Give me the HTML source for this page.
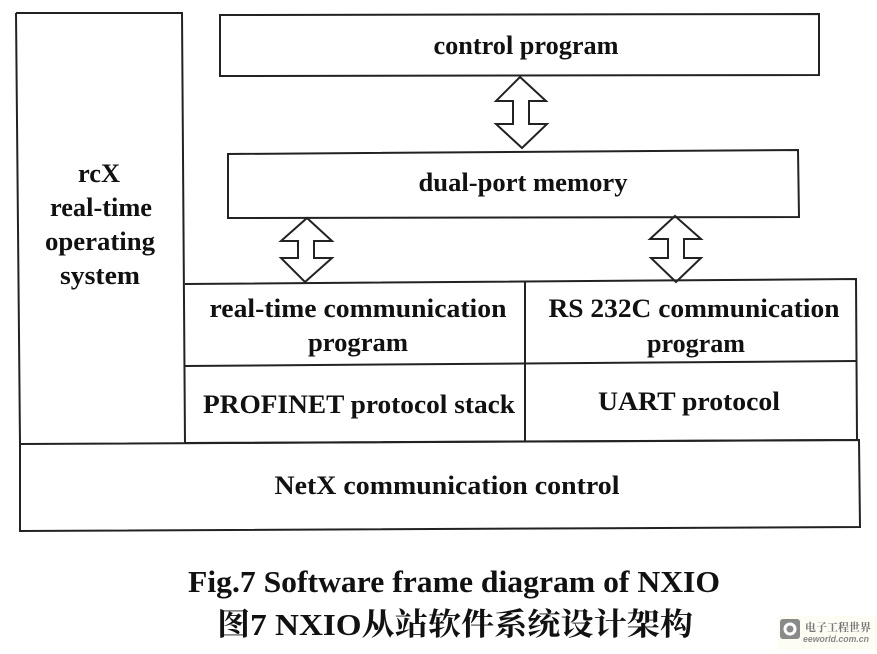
<!DOCTYPE html>
<html><head><meta charset="utf-8"><style>
html,body{margin:0;padding:0;background:#fff}
svg{display:block}
text{font-family:"Liberation Serif","Noto Serif CJK SC",serif;fill:#111;text-anchor:middle;font-weight:bold;font-size:26px;stroke:none}
</style></head><body>
<svg width="877" height="654" viewBox="0 0 877 654" xmlns="http://www.w3.org/2000/svg">
<rect width="877" height="654" fill="#fff"/>
<g fill="none" stroke="#222" stroke-width="2">
<path d="M16 13L182 13L185 444M16 13L20 444"/>
<path d="M220 15L819 14L819 75L220 76Z"/>
<path d="M228 154L798 150L799 217L228 218Z"/>
<path d="M185 284L856 279L857 440L185 443"/>
<path d="M185 366L856 361"/>
<path d="M525 281L525 441"/>
<path d="M20 444L859 440L860 527L20 531Z"/>
<path d="M520 77L546 101L529 101L529 124L547 124L522 148L496 124L513 124L513 101L496 101Z"/>
<path d="M307 218L332 241L314 241L314 258L332 258L305 282L281 258L298 258L298 241L281 241Z"/>
<path d="M675 216L701 239L684 239L684 258L701 258L676 282L651 258L668 258L668 239L650 239Z"/>
</g>
<g>
<text x="99" y="182" textLength="42" lengthAdjust="spacingAndGlyphs">rcX</text>
<text x="101" y="216" textLength="102" lengthAdjust="spacingAndGlyphs">real-time</text>
<text x="100" y="250" textLength="110" lengthAdjust="spacingAndGlyphs">operating</text>
<text x="100" y="284" textLength="80" lengthAdjust="spacingAndGlyphs">system</text>
<text x="526" y="54" textLength="185" lengthAdjust="spacingAndGlyphs">control program</text>
<text x="523" y="191" textLength="209" lengthAdjust="spacingAndGlyphs">dual-port memory</text>
<text x="358" y="317" textLength="297" lengthAdjust="spacingAndGlyphs">real-time communication</text>
<text x="358" y="351" textLength="100" lengthAdjust="spacingAndGlyphs">program</text>
<text x="694" y="317" textLength="291" lengthAdjust="spacingAndGlyphs">RS 232C communication</text>
<text x="696" y="352" textLength="98" lengthAdjust="spacingAndGlyphs">program</text>
<text x="359" y="413" textLength="312" lengthAdjust="spacingAndGlyphs">PROFINET protocol stack</text>
<text x="689" y="410" textLength="182" lengthAdjust="spacingAndGlyphs">UART protocol</text>
<text x="447" y="494" textLength="345" lengthAdjust="spacingAndGlyphs">NetX communication control</text>
<text x="454" y="592" textLength="532" lengthAdjust="spacingAndGlyphs" style="font-size:31px">Fig.7 Software frame diagram of NXIO</text>
<text x="455" y="635" textLength="476" lengthAdjust="spacingAndGlyphs" style="font-size:31px">图7 NXIO从站软件系统设计架构</text>
</g>
<g>
<rect x="778" y="616" width="99" height="34" fill="#fdfdf3"/>
<rect x="780" y="619" width="20" height="20" rx="3" fill="#8a8a8a"/>
<circle cx="790" cy="629" r="5" fill="none" stroke="#fff" stroke-width="3"/>
<text x="838" y="631" textLength="66" lengthAdjust="spacingAndGlyphs" style="font-size:11px;fill:#777">电子工程世界</text>
<text x="836" y="642" textLength="66" lengthAdjust="spacingAndGlyphs" style="font-size:9px;fill:#888;font-family:'Liberation Sans',sans-serif;font-style:italic">eeworld.com.cn</text>
</g>
</svg>
</body></html>
